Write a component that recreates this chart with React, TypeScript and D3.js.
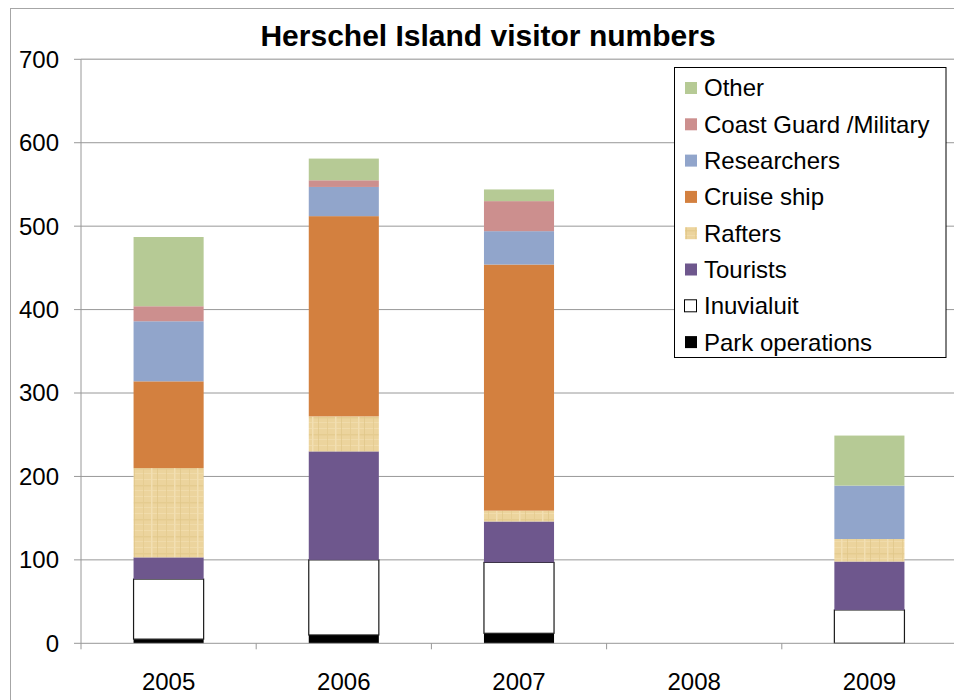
import React from 'react';
import * as d3 from 'd3';

// visitor counts per year
const years = ['2005', '2006', '2007', '2008', '2009'];
const parkOperations = [5, 10, 12, 0, 0];
const inuvialuit = [72, 90, 85, 0, 40];
const tourists = [26, 130, 49, 0, 58];
const rafters = [107, 42, 13, 0, 27];
const cruiseShip = [104, 240, 295, 0, 0];
const researchers = [72, 35, 40, 0, 64];
const coastGuard = [18, 8, 36, 0, 0];
const other = [83, 26, 14, 0, 60];

const seriesNames = ['Park operations', 'Inuvialuit', 'Tourists', 'Rafters', 'Cruise ship', 'Researchers', 'Coast Guard /Military', 'Other'];
const seriesValues = [parkOperations, inuvialuit, tourists, rafters, cruiseShip, researchers, coastGuard, other];
const yTicks = [0, 100, 200, 300, 400, 500, 600, 700];

const colors: Record<string, string> = {
  'Park operations': '#000000',
  'Inuvialuit': '#ffffff',
  'Tourists': '#6e578d',
  'Rafters': 'url(#papyrus)',
  'Cruise ship': '#d3803f',
  'Researchers': '#91a5cb',
  'Coast Guard /Military': '#cc8f8e',
  'Other': '#b6ca95'
};

const font = '"Liberation Sans", Arial, sans-serif';

export default function App() {
  const width = 954;
  const height = 700;
  const left = 81, right = 957, top = 59.3, bottom = 643.3;

  const rows = years.map((y, i) => {
    const r: any = {year: y};
    seriesNames.forEach((n, k) => { r[n] = seriesValues[k][i]; });
    return r;
  });
  const stacked = d3.stack().keys(seriesNames)(rows);

  const x = d3.scaleBand().domain(years).range([left, right]).paddingInner(0.6).paddingOuter(0.3);
  const y = d3.scaleLinear().domain([0, 700]).range([bottom, top]);
  const step = x.step();

  const legendItems = seriesNames.slice().reverse();

  return (
    <svg width={width} height={height} style={{position: 'absolute', left: 0, top: 0}} fontFamily={font}>
      <defs>
        <pattern id="papyrus" patternUnits="userSpaceOnUse" width="23" height="17">
          <rect width="23" height="17" fill="#ecd49d" />
          <rect x="0" y="3" width="23" height="1" fill="#f1dcab" />
          <rect x="0" y="9" width="23" height="1.5" fill="#e4ca8d" opacity="0.8" />
          <rect x="0" y="14" width="23" height="1" fill="#f0dbaa" />
          <rect x="5" y="0" width="1" height="17" fill="#e5cc90" opacity="0.8" />
          <rect x="13" y="0" width="1.5" height="17" fill="#f2dfb2" />
          <rect x="19" y="0" width="1" height="17" fill="#e0c688" opacity="0.7" />
        </pattern>
      </defs>
      <rect x={10.5} y={8.5} width={960} height={720} fill="#fff" stroke="#a6a6a6" />

      <text x={488} y={46} textAnchor="middle" fontSize={30} fontWeight="bold">Herschel Island visitor numbers</text>

      {yTicks.map(t => (
        <g key={t}>
          {t > 0 && <line x1={left} x2={right} y1={y(t)} y2={y(t)} stroke={t === 700 ? '#b4b4b4' : '#989898'} strokeWidth={t === 700 ? 1.5 : 1} />}
          <line x1={74} x2={left} y1={y(t)} y2={y(t)} stroke="#989898" />
          <text x={59} y={y(t)} dy="0.35em" textAnchor="end" fontSize={24}>{t}</text>
        </g>
      ))}

      {stacked.map(s => (
        <g key={s.key}>
          {s.map((d, i) => {
            const h = y(d[0]) - y(d[1]);
            if (h <= 0) return null;
            const isInu = s.key === 'Inuvialuit';
            return (
              <rect key={i} x={x(years[i])!} y={y(d[1])} width={x.bandwidth()} height={h}
                fill={colors[s.key]} stroke={isInu ? '#1a1a1a' : 'none'} strokeWidth={isInu ? 1.2 : 0} />
            );
          })}
        </g>
      ))}

      <line x1={left} x2={left} y1={top} y2={bottom} stroke="#989898" />
      <line x1={left} x2={right} y1={bottom} y2={bottom} stroke="#989898" />
      {years.map((yr, i) => (
        <line key={'xt' + yr} x1={left + step * i} x2={left + step * i} y1={bottom} y2={bottom + 6} stroke="#989898" />
      ))}
      <line x1={left + step * 5} x2={left + step * 5} y1={bottom} y2={bottom + 6} stroke="#989898" />

      {years.map(yr => (
        <text key={yr} x={x(yr)! + x.bandwidth() / 2} y={690} textAnchor="middle" fontSize={24}>{yr}</text>
      ))}

      <g>
        <rect x={674.5} y={67.5} width={271.5} height={290} fill="#fff" stroke="#000" />
        {legendItems.map((n, i) => {
          const cy = 88 + i * 36.3;
          const isInu = n === 'Inuvialuit';
          return (
            <g key={n}>
              <rect x={isInu ? 684.5 : 685} y={cy - 6} width={12} height={12} fill={colors[n]}
                stroke={isInu ? '#000' : 'none'} strokeWidth={1} />
              <text x={704} y={cy} dy="0.35em" fontSize={24}>{n}</text>
            </g>
          );
        })}
      </g>
    </svg>
  );
}
